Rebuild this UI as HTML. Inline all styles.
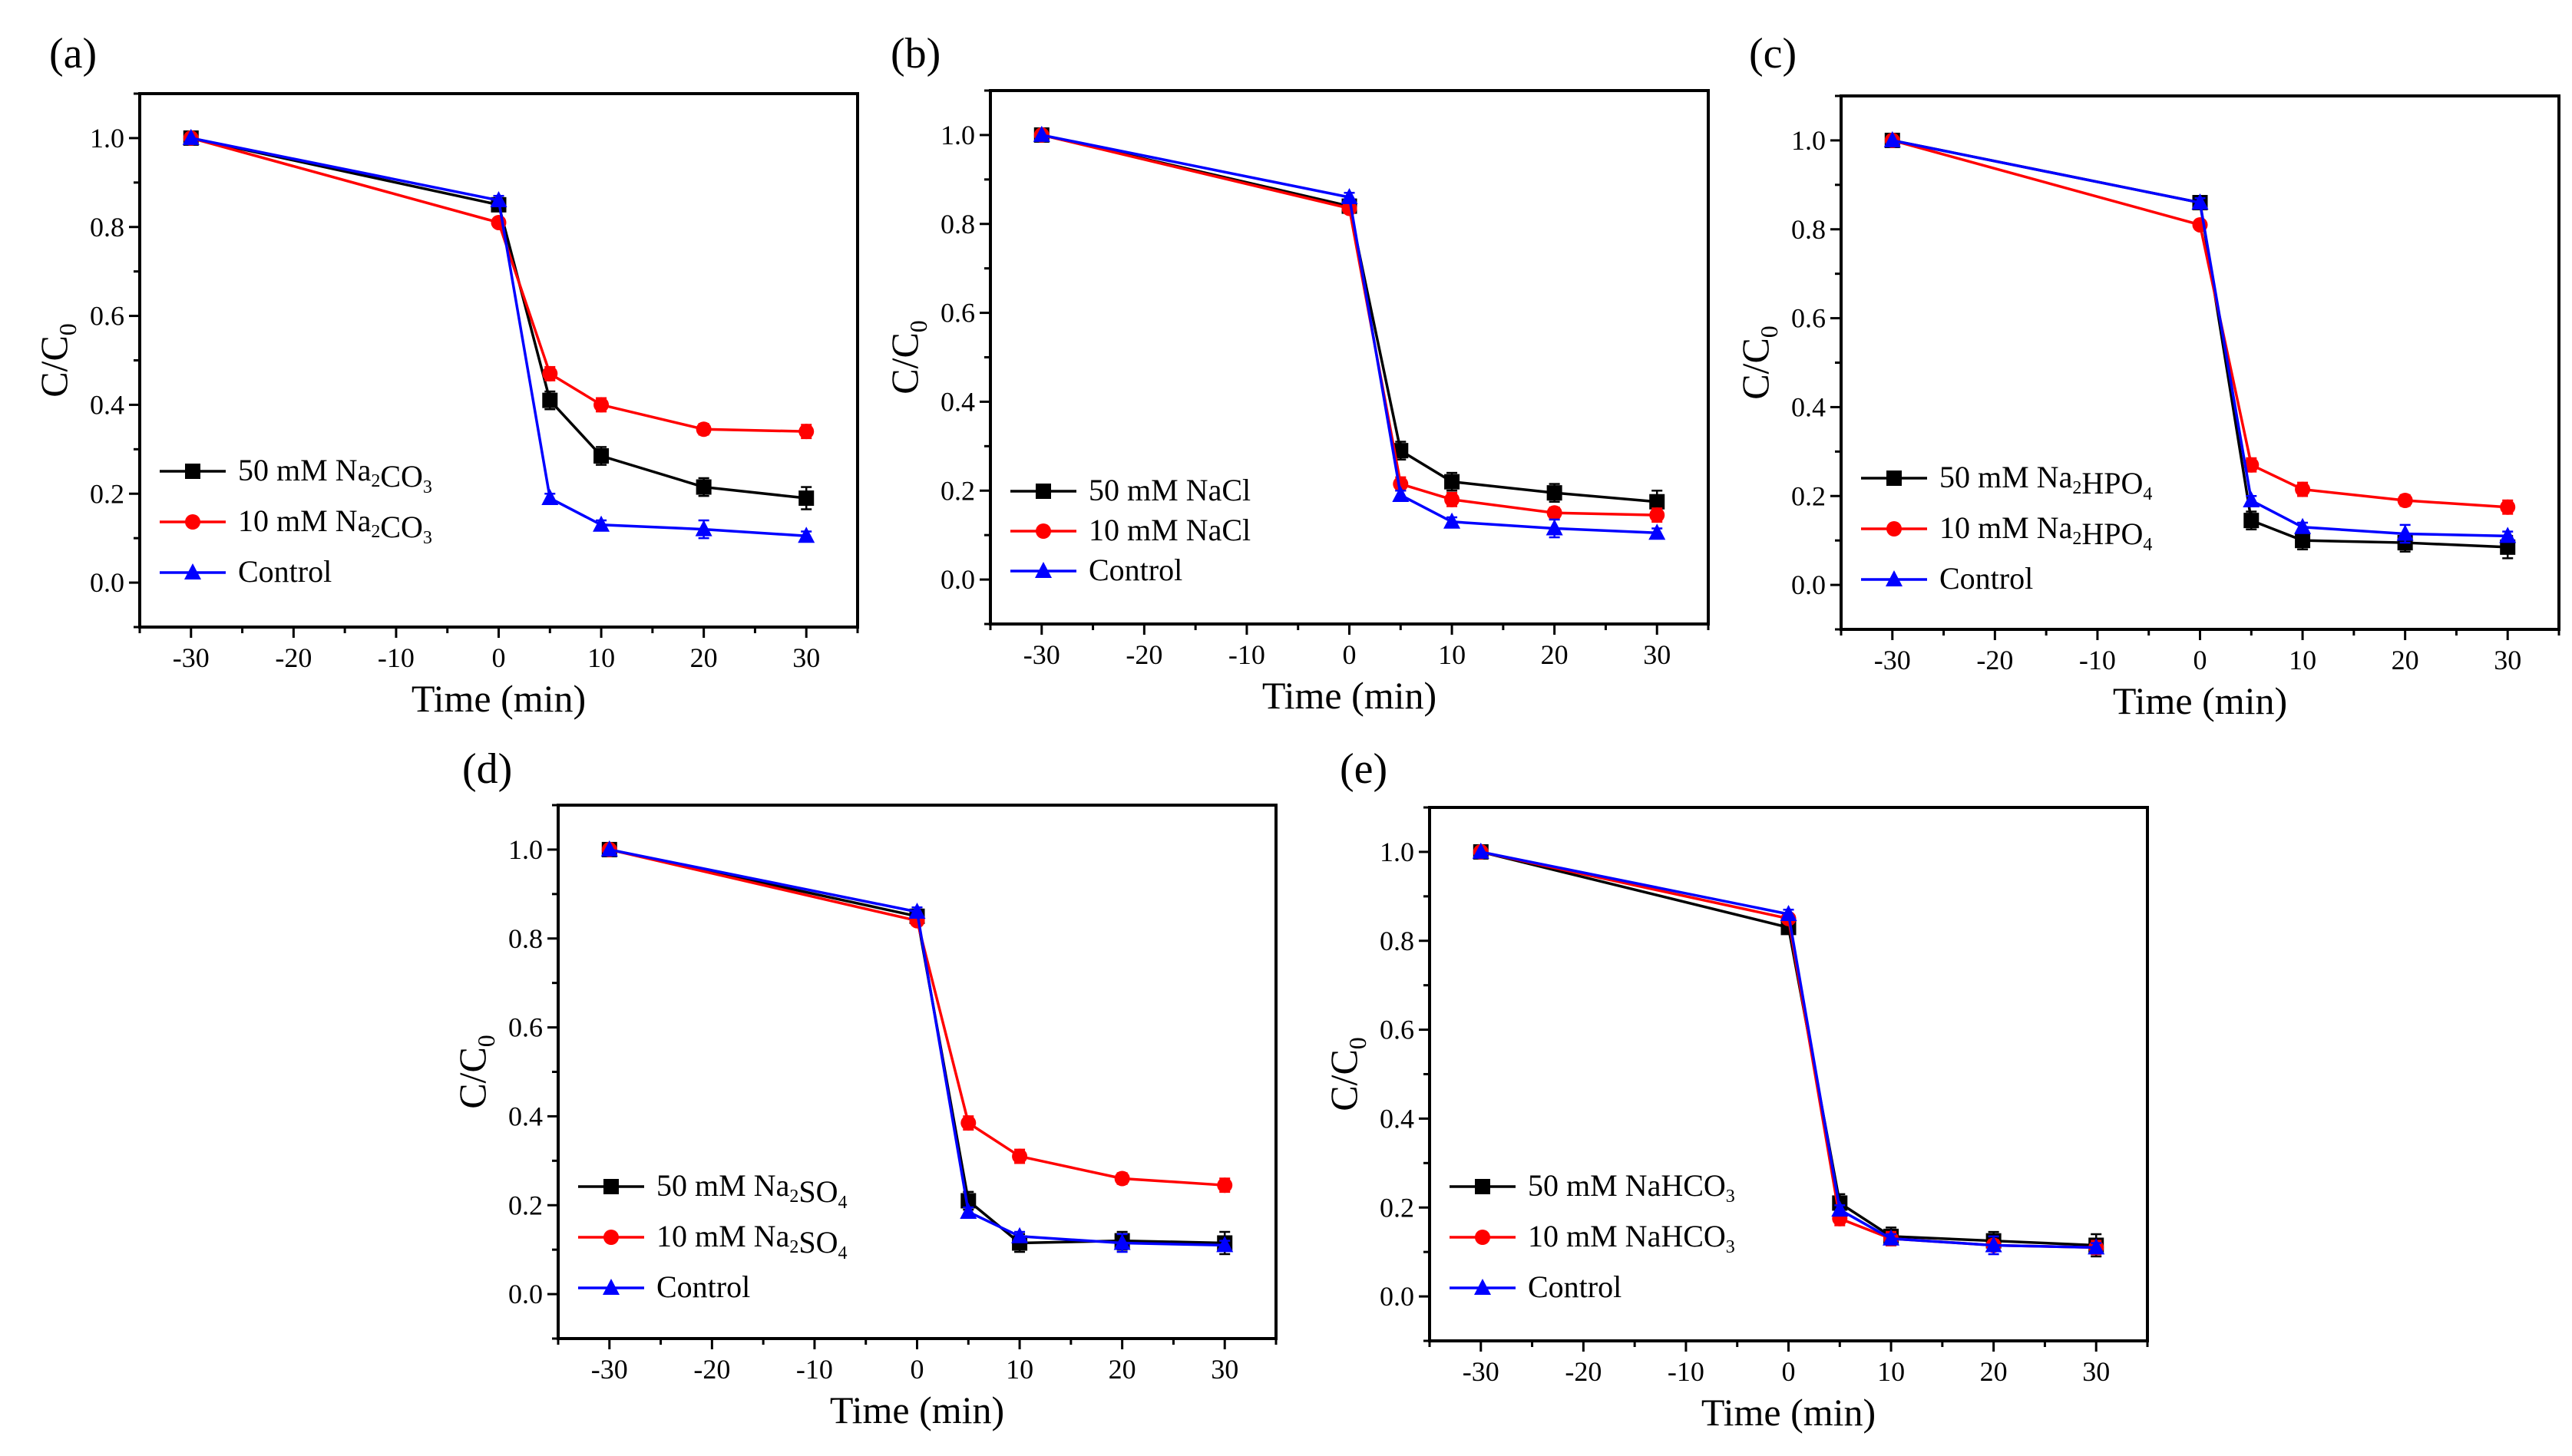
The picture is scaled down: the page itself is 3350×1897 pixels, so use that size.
<!DOCTYPE html>
<html><head><meta charset="utf-8"><style>
body{margin:0;background:#fff;}
svg, svg text{font-family:"Liberation Serif","DejaVu Serif",serif;}
</style></head><body>
<svg id="fig" width="3350" height="1892" viewBox="0 0 3350 1892" xmlns="http://www.w3.org/2000/svg" font-family="Liberation Serif, serif"></svg>
<script>
const times = [-30, 0, 5, 10, 20, 30];
const xTicks = [-30, -20, -10, 0, 10, 20, 30];
const yTicks = [0.0, 0.2, 0.4, 0.6, 0.8, 1.0];
const yTickLabels = ["0.0","0.2","0.4","0.6","0.8","1.0"];
const panelLabels = ["(a)","(b)","(c)","(d)","(e)"];
const salts = [["Na","2","CO","3"],["NaCl"],["Na","2","HPO","4"],["Na","2","SO","4"],["NaHCO","3"]];
const a50 = [1, 0.85, 0.41, 0.285, 0.215, 0.19];
const a10 = [1, 0.81, 0.47, 0.40, 0.345, 0.34];
const aCtl = [1, 0.86, 0.19, 0.13, 0.12, 0.105];
const b50 = [1, 0.84, 0.29, 0.22, 0.195, 0.175];
const b10 = [1, 0.835, 0.215, 0.18, 0.15, 0.145];
const bCtl = [1, 0.86, 0.19, 0.13, 0.115, 0.105];
const c50 = [1, 0.86, 0.145, 0.10, 0.095, 0.085];
const c10 = [1, 0.81, 0.27, 0.215, 0.19, 0.175];
const cCtl = [1, 0.86, 0.19, 0.13, 0.115, 0.11];
const d50 = [1, 0.85, 0.21, 0.115, 0.12, 0.115];
const d10 = [1, 0.84, 0.385, 0.31, 0.26, 0.245];
const dCtl = [1, 0.86, 0.185, 0.13, 0.115, 0.11];
const e50 = [1, 0.83, 0.21, 0.135, 0.125, 0.115];
const e10 = [1, 0.85, 0.175, 0.13, 0.115, 0.11];
const eCtl = [1, 0.86, 0.195, 0.13, 0.115, 0.11];
const errBlack = [0, 0.01, 0.02, 0.02, 0.02, 0.025];
const errRed = [0, 0.01, 0.015, 0.015, 0.012, 0.015];
const errBlue = [0, 0.01, 0.01, 0.01, 0.02, 0.01];

const series = [[a50,a10,aCtl],[b50,b10,bCtl],[c50,c10,cCtl],[d50,d10,dCtl],[e50,e10,eCtl]];
const panels = [
 {x:182,y:122,lx:64,ly:88,leg:614,gap:66},
 {x:1290,y:118,lx:1160,ly:88,leg:640,gap:52},
 {x:2398,y:125,lx:2278,ly:88,leg:623,gap:66},
 {x:727,y:1049,lx:602,ly:1020,leg:1546,gap:66},
 {x:1862,y:1052,lx:1745,ly:1020,leg:1546,gap:66}
];
const W=935,H=695;
const NS="http://www.w3.org/2000/svg";
const FF='"Liberation Serif","DejaVu Serif",serif';
const svg=document.getElementById('fig');
function mk(tag,attrs,parent){const e=document.createElementNS(NS,tag);for(const k in attrs)e.setAttribute(k,attrs[k]);if(tag==='text')e.style.fontFamily=FF;(parent||svg).appendChild(e);return e;}
const colors=["#000","#f00","#00f"];
const errs=[errBlack,errRed,errBlue];

function marker(kind,x,y,c,g){
  if(kind===0) return mk('rect',{x:x-10,y:y-10,width:20,height:20,fill:c},g);
  if(kind===1) return mk('circle',{cx:x,cy:y,r:10,fill:c},g);
  return mk('polygon',{points:`${x},${y-12} ${x-11},${y+9} ${x+11},${y+9}`,fill:c},g);
}

panels.forEach((p,pi)=>{
  const g=mk('g',{});
  
  
  const sx=v=>p.x+(v+35)/70*W;
  const sy=v=>p.y+(1.1-v)/1.2*H;
  const lab=mk('text',{x:p.lx,y:p.ly,'font-size':56},g);
  lab.textContent=panelLabels[pi];
  
  
  const box=mk('rect',{x:p.x,y:p.y,width:W,height:H,fill:'none',stroke:'#000','stroke-width':4},g);
  
  
  for(let v=-35;v<=35;v+=5){
    const major=xTicks.includes(v);
    mk('line',{x1:sx(v),x2:sx(v),y1:p.y+H,y2:p.y+H+(major?14:8),stroke:'#000','stroke-width':3},g);
  }
  xTicks.forEach(v=>{
    const t=mk('text',{x:sx(v),y:p.y+H+52,'font-size':36,'text-anchor':'middle'},g);
    t.textContent=String(v);
    
    
  });
  for(let k=-1;k<=11;k++){
    const v=k/10;const major=k>=0&&k<=10&&k%2===0;
    mk('line',{x1:p.x,x2:p.x-(major?14:8),y1:sy(v),y2:sy(v),stroke:'#000','stroke-width':3},g);
  }
  yTicks.forEach((v,i)=>{
    const t=mk('text',{x:p.x-20,y:sy(v)+12,'font-size':36,'text-anchor':'end'},g);
    t.textContent=yTickLabels[i];
    
    
  });
  const xt=mk('text',{x:p.x+W/2,y:p.y+H+110,'font-size':50,'text-anchor':'middle'},g);
  xt.textContent='Time (min)';
  
  
  const yt=mk('text',{transform:`translate(${p.x-95},${p.y+H/2}) rotate(-90)`,'font-size':50,'text-anchor':'middle'},g);
  yt.innerHTML='C/C<tspan font-size="32" dy="12">0</tspan>';
  
  
  series[pi].forEach((vals,si)=>{
    const sg=mk('g',{},g);
    
    
    mk('polyline',{points:times.map((t,i)=>sx(t)+','+sy(vals[i])).join(' '),fill:'none',stroke:colors[si],'stroke-width':3.5},sg);
    times.forEach((t,i)=>{
      const e=errs[si][i];
      if(e>0){
        mk('line',{x1:sx(t),x2:sx(t),y1:sy(vals[i]+e),y2:sy(vals[i]-e),stroke:colors[si],'stroke-width':2.5},sg);
        mk('line',{x1:sx(t)-7,x2:sx(t)+7,y1:sy(vals[i]+e),y2:sy(vals[i]+e),stroke:colors[si],'stroke-width':2.5},sg);
        mk('line',{x1:sx(t)-7,x2:sx(t)+7,y1:sy(vals[i]-e),y2:sy(vals[i]-e),stroke:colors[si],'stroke-width':2.5},sg);
      }
      const m=marker(si,sx(t),sy(vals[i]),colors[si],sg);
      
      
    });
  });
  const lg=mk('g',{},g);
  
  
  const salt=salts[pi];
  const saltHtml=salt.map((s,i)=>/^\d$/.test(s)?`<tspan font-size="24" dy="8">${s}</tspan><tspan dy="-8"></tspan>`:s).join('');
  const names=['50 mM '+saltHtml,'10 mM '+saltHtml,'Control'];
  names.forEach((n,i)=>{
    const y=p.leg+i*p.gap;
    const eg=mk('g',{},lg);
    
    
    mk('line',{x1:p.x+26,x2:p.x+112,y1:y,y2:y,stroke:colors[i],'stroke-width':3.5},eg);
    marker(i,p.x+69,y,colors[i],eg);
    const t=mk('text',{x:p.x+128,y:y+12,'font-size':40},eg);
    t.innerHTML=n;
  });
});
</script>
</body></html>
